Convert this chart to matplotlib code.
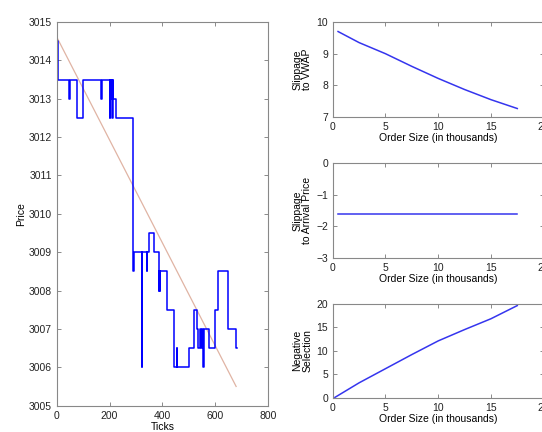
import matplotlib
matplotlib.use("Agg")
import matplotlib.pyplot as plt

plt.rcParams['font.family'] = ['Liberation Sans', 'DejaVu Sans']

# Price step series (tick, price) change points
ticks = [0, 3, 46, 48, 76, 99, 169, 171, 200, 202, 205, 207, 209, 211, 213, 223,
         289, 292, 321, 323, 340, 342, 348, 367, 386, 388, 390, 392, 416, 444,
         454, 457, 502, 520, 530, 535, 542, 548, 551, 555, 558, 578, 600, 610,
         648, 678, 682]
prices = [3014.5, 3013.5, 3013.0, 3013.5, 3012.5, 3013.5, 3013.0, 3013.5, 3012.5,
          3013.5, 3013.0, 3013.5, 3012.5, 3013.5, 3013.0, 3012.5,
          3008.5, 3009.0, 3006.0, 3009.0, 3008.5, 3009.0, 3009.5, 3009.0, 3008.0,
          3008.5, 3008.0, 3008.5, 3007.5, 3006.0,
          3006.5, 3006.0, 3006.5, 3007.5, 3007.0, 3006.5, 3007.0, 3006.5, 3007.0,
          3006.0, 3007.0, 3006.5, 3007.5, 3008.5,
          3007.0, 3006.5, 3006.5]

trend_x = [0, 680]
trend_y = [3014.6, 3005.5]

order_size = [0.5, 2.5, 5, 7.5, 10, 12.5, 15, 17.5]
slip_vwap = [9.7, 9.35, 9.0, 8.6, 8.22, 7.87, 7.55, 7.27]
slip_arrival = [-1.62, -1.62, -1.62, -1.62, -1.62, -1.62, -1.62, -1.62]
neg_sel_x = [0.2, 2.5, 5, 7.5, 10, 12.5, 15, 17.5]
neg_sel = [0.1, 3.2, 6.2, 9.2, 12.1, 14.5, 16.8, 19.6]

fs = 7.5
fig = plt.figure(figsize=(5.42, 4.32), dpi=100)

def style(ax):
    ax.tick_params(direction='in', top=True, right=True, labelsize=fs,
                   length=3, width=0.6, colors='#777777', labelcolor='#222222')
    for s in ax.spines.values():
        s.set_color('#888888')
        s.set_linewidth(0.8)

ax0 = fig.add_axes([0.105, 0.061, 0.389, 0.888])
ax0.plot(trend_x, trend_y, color='#e0b4a4', lw=0.9)
ax0.plot(ticks, prices, drawstyle='steps-post', color='#0000ff', lw=1.1)
ax0.set_xlim(0, 800)
ax0.set_ylim(3005, 3015)
ax0.set_xticks([0, 200, 400, 600, 800])
ax0.set_yticks(range(3005, 3016))
ax0.set_xlabel('Ticks', fontsize=fs, labelpad=1)
ax0.set_ylabel('Price', fontsize=fs, labelpad=2)
style(ax0)

ax1 = fig.add_axes([0.614, 0.729, 0.389, 0.220])
ax1.plot(order_size, slip_vwap, color='#3535ee', lw=1.1)
ax1.set_xlim(0, 20)
ax1.set_ylim(7, 10)
ax1.set_yticks([7, 8, 9, 10])
ax1.set_ylabel('Slippage\nto VWAP', fontsize=fs, labelpad=3, linespacing=0.95)

ax2 = fig.add_axes([0.614, 0.403, 0.389, 0.220])
ax2.plot(order_size, slip_arrival, color='#3535ee', lw=1.1)
ax2.set_xlim(0, 20)
ax2.set_ylim(-3, 0)
ax2.set_yticks([-3, -2, -1, 0])
ax2.set_ylabel('Slippage\nto Arrival Price', fontsize=fs, labelpad=3, linespacing=0.95)

ax3 = fig.add_axes([0.614, 0.079, 0.389, 0.218])
ax3.plot(neg_sel_x, neg_sel, color='#3535ee', lw=1.1)
ax3.set_xlim(0, 20)
ax3.set_ylim(0, 20)
ax3.set_yticks([0, 5, 10, 15, 20])
ax3.set_ylabel('Negative\nSelection', fontsize=fs, labelpad=3, linespacing=0.95)

for ax in (ax1, ax2, ax3):
    ax.set_xticks([0, 5, 10, 15, 20])
    ax.set_xlabel('Order Size (in thousands)', fontsize=fs, labelpad=1)
    style(ax)

fig.savefig('out.png', dpi=100)
